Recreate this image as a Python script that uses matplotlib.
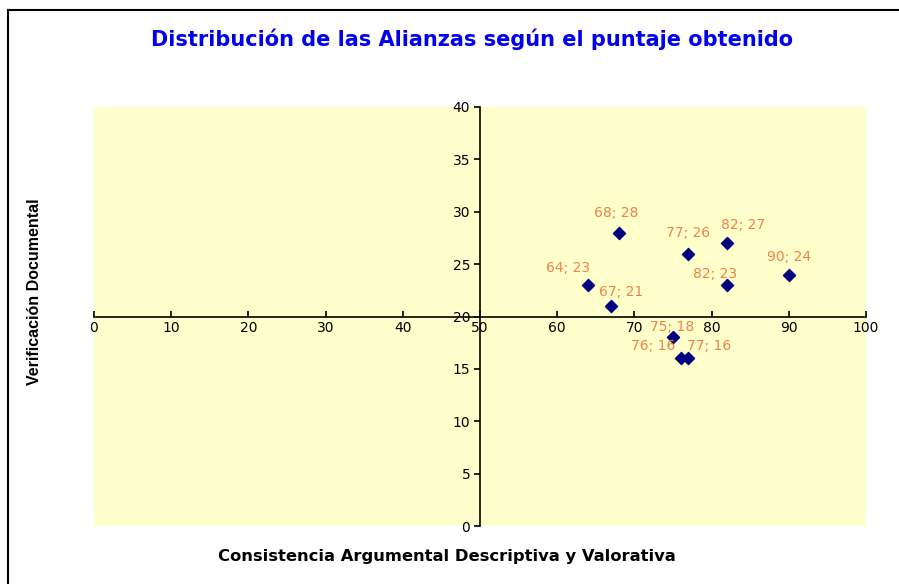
import matplotlib
matplotlib.use("Agg")
import matplotlib.pyplot as plt
from matplotlib.lines import Line2D

x_vals = [68, 77, 82, 90, 64, 82, 67, 75, 76, 77]
y_vals = [28, 26, 27, 24, 23, 23, 21, 18, 16, 16]
x_ticks = [0, 10, 20, 30, 40, 50, 60, 70, 80, 90, 100]
y_ticks = [0, 5, 10, 15, 20, 25, 30, 35, 40]

# label offsets (pixels, dx right, dy up) as placed in the reference
label_dx = [-3, 0, 16, 0, -20, -12, 10, -1, -28, 21]
label_dy = [20, 21, 18, 18, 17, 11, 14, 10, 12, 12]

plt.rcParams['font.family'] = ['DejaVu Sans']

W, H = 899, 584
fig = plt.figure(figsize=(W / 100, H / 100), dpi=100)
ax = fig.add_axes([94 / W, 1 - 526 / H, (866 - 94) / W, (526 - 107) / H])
ax.set_facecolor('#FFFFCC')
ax.set_xlim(0, 100)
ax.set_ylim(0, 40)

for s in ['top', 'right']:
    ax.spines[s].set_visible(False)
ax.spines['left'].set_position(('data', 50))
ax.spines['bottom'].set_position(('data', 20))
ax.spines['left'].set_linewidth(1.2)
ax.spines['bottom'].set_linewidth(1.2)

ax.set_xticks(x_ticks)
ax.set_yticks(y_ticks)
ax.tick_params(axis='x', direction='in', length=4, width=1.2, labelsize=10, pad=3)
ax.tick_params(axis='y', direction='out', length=4, width=1.2, labelsize=10, pad=3)

ax.scatter(x_vals, y_vals, marker='D', s=38, color='#000080', zorder=5)
for xv, yv, dx, dy in zip(x_vals, y_vals, label_dx, label_dy):
    ax.annotate(f"{xv}; {yv}", (xv, yv), xytext=(dx * 0.72, dy * 0.72), textcoords='offset points',
                ha='center', va='center', fontsize=10, color='#F0804A', zorder=6)

fig.text(472 / W, 1 - 39 / H, 'Distribución de las Alianzas según el puntaje obtenido',
         ha='center', va='center', fontsize=15, fontweight='bold', color='#0000EE')
fig.text(447 / W, 1 - 556 / H, 'Consistencia Argumental Descriptiva y Valorativa',
         ha='center', va='center', fontsize=11.8, fontweight='bold', color='black')
fig.text(35 / W, 1 - 292 / H, 'Verificación Documental', rotation=90,
         ha='center', va='center', fontsize=11.5, fontweight='bold', color='black',
         family=['Liberation Sans', 'DejaVu Sans'])

# outer border lines (top and left)
fig.add_artist(Line2D([8 / W, 1], [1 - 10 / H, 1 - 10 / H], transform=fig.transFigure, color='black', lw=1.5))
fig.add_artist(Line2D([8 / W, 8 / W], [0, 1 - 10 / H], transform=fig.transFigure, color='black', lw=1.5))

fig.savefig('out.png', dpi=100)
